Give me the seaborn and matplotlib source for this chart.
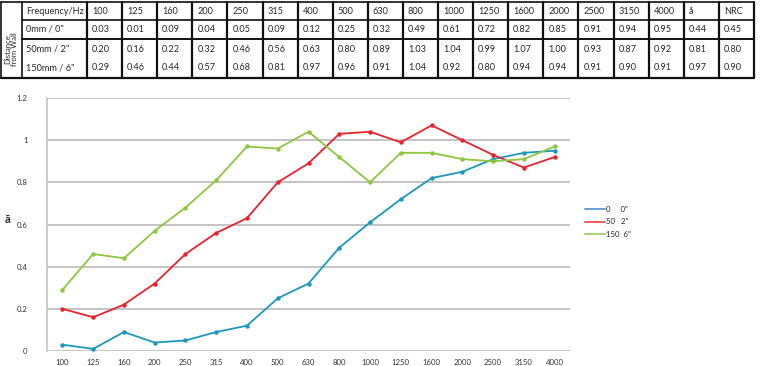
# -*- coding: utf-8 -*-
"""Sound absorption chart with table."""

import matplotlib.pyplot as plt
import pandas as pd
import seaborn as sns
from matplotlib.lines import Line2D

# Data
freqs = ["100", "125", "160", "200", "250", "315", "400", "500", "630", "800",
         "1000", "1250", "1600", "2000", "2500", "3150", "4000"]
row_labels = ["0mm / 0\"", "50mm / 2\"", "150mm / 6\""]
legend_labels = ["0     0\"", "50   2\"", "150  6\""]
# table values
mount_0 = [0.03, 0.01, 0.09, 0.04, 0.05, 0.09, 0.12, 0.25, 0.32, 0.49,
           0.61, 0.72, 0.82, 0.85, 0.91, 0.94, 0.95]
mount_50 = [0.20, 0.16, 0.22, 0.32, 0.46, 0.56, 0.63, 0.80, 0.89, 1.03,
            1.04, 0.99, 1.07, 1.00, 0.93, 0.87, 0.92]
mount_150 = [0.29, 0.46, 0.44, 0.57, 0.68, 0.81, 0.97, 0.96, 0.91, 1.04,
             0.92, 0.80, 0.94, 0.94, 0.91, 0.90, 0.91]
# the green line as drawn in the chart (differs from the table)
chart_150 = [0.29, 0.46, 0.44, 0.57, 0.68, 0.81, 0.97, 0.96, 1.04, 0.92,
             0.80, 0.94, 0.94, 0.91, 0.90, 0.91, 0.97]
alpha_avg = ["0.44", "0.81", "0.97"]
nrc = ["0.45", "0.80", "0.90"]
yticks = [0, 0.2, 0.4, 0.6, 0.8, 1, 1.2]

colors = ["#1d97bd", "#e8232b", "#8dc641"]
legend_colors = ["#6b9fdb", "#ee5a63", "#a3d36a"]

# Long-form data for seaborn
table_series = [mount_0, mount_50, mount_150]
chart_series = [mount_0, mount_50, chart_150]
data = pd.DataFrame(
    [
        {"freq": f, "value": v, "mount": legend_labels[i]}
        for i, vals in enumerate(chart_series)
        for f, v in zip(freqs, vals)
    ]
)

# Figure
sns.set_style("white")
plt.rcParams["font.family"] = ["Lato", "DejaVu Sans"]
fig = plt.figure(figsize=(7.63, 3.66), dpi=100)

# ---- Table (pixel coordinates) ----
tax = fig.add_axes([0, 0, 1, 1])
tax.set_xlim(0, 763)
tax.set_ylim(366, 0)
tax.axis("off")

col_w = 35.1
x0 = 87
n_cols = len(freqs) + 2
edges = [x0 + i * col_w for i in range(n_cols + 1)]
row_top, row_h1, row_h2, row_bot = 2, 20, 39, 78
lc = "#111111"

# outer and inner lines
tax.plot([1, edges[-1]], [row_top, row_top], color=lc, lw=1.2)
tax.plot([1, edges[-1]], [row_bot, row_bot], color=lc, lw=1.6)
tax.plot([22, edges[-1]], [row_h1, row_h1], color=lc, lw=1.2)
tax.plot([22, edges[-1]], [row_h2, row_h2], color=lc, lw=1.4)
tax.plot([22, 22], [row_top, row_bot], color=lc, lw=1.2)
tax.plot([1, 1], [row_top, row_bot], color=lc, lw=1.2)
for e in edges:
    tax.plot([e, e], [row_top, row_bot], color=lc, lw=1.6)

fs = 6.6
tax.text(26, (row_top + row_h1) / 2, "Frequency/Hz", fontsize=fs, va="center")
row_ys = [(row_h1 + row_h2) / 2, 49, 68]
for y, lab in zip(row_ys, row_labels):
    tax.text(26, y, lab, fontsize=fs, va="center")
tax.text(11, (row_h1 + row_bot) / 2, "Distance\nfrom Wall", fontsize=5.6,
         rotation=90, ha="center", va="center", linespacing=0.9)

headers = freqs + ["å", "NRC"]
for j, h in enumerate(headers):
    tax.text(edges[j] + 5, (row_top + row_h1) / 2, h, fontsize=fs, va="center")
for i, vals in enumerate(table_series):
    cells = [f"{v:.2f}" for v in vals] + [alpha_avg[i], nrc[i]]
    for j, c in enumerate(cells):
        tax.text(edges[j] + 5, row_ys[i], c, fontsize=fs, va="center")

# ---- Line chart ----
ax = fig.add_axes([47 / 763, 15 / 366, 523 / 763, 253 / 366])
sns.lineplot(
    data=data,
    x="freq",
    y="value",
    hue="mount",
    palette=colors,
    marker="o",
    markersize=3.2,
    markeredgewidth=0,
    linewidth=1.3,
    ax=ax,
    legend=False,
)
ax.set_xlim(-0.5, len(freqs) - 0.5)
ax.set_ylim(0, 1.2)
ax.set_yticks(yticks)
ax.set_yticklabels(["0", "0.2", "0.4", "0.6", "0.8", "1", "1.2"])
ax.yaxis.grid(True, color="#c4c4c4", linewidth=1.4)
ax.set_axisbelow(True)
for s in ["top", "right", "bottom"]:
    ax.spines[s].set_visible(False)
ax.spines["left"].set_color("#c4c4c4")
ax.spines["left"].set_linewidth(1.2)
ax.tick_params(axis="both", labelsize=5.6, length=0, colors="#333333")
ax.tick_params(axis="y", pad=14)
ax.tick_params(axis="x", pad=6)
ax.set_xlabel("")
ax.set_ylabel("ā", fontsize=8, fontweight="bold", rotation=0, va="center")
ax.yaxis.set_label_coords(-0.075, 0.52)

# Legend
handles = [Line2D([0], [0], color=c, lw=1.4) for c in legend_colors]
ax.legend(handles, legend_labels, loc="center left", bbox_to_anchor=(1.015, 0.51),
          frameon=False, fontsize=5.6, handlelength=2.6, handletextpad=0.1,
          labelspacing=0.7)

fig.savefig("out.png", dpi=100)
